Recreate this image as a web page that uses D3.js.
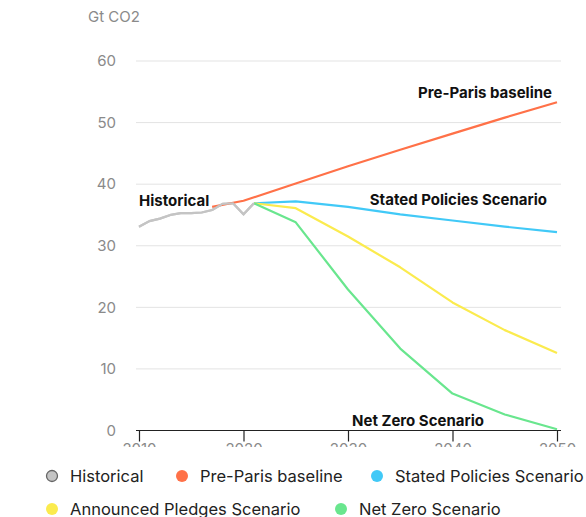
<!DOCTYPE html>
<html>
<head>
<meta charset="utf-8">
<script src="https://cdn.jsdelivr.net/npm/d3@7"></script>
<style>
  html, body { margin: 0; padding: 0; background: #fff; }
  svg { display: block; font-family: Inter, "Noto Sans", sans-serif; }
</style>
</head>
<body>
<svg id="chart" width="586" height="517"></svg>
<script>
// ---- data ----
const yTicks = [0, 10, 20, 30, 40, 50, 60];
const xTicks = [2010, 2020, 2030, 2040, 2050];
const yUnit = "Gt CO2";

const historicalYears = [2010, 2011, 2012, 2013, 2014, 2015, 2016, 2017, 2018, 2019, 2020, 2021];
const historicalValues = [33.1, 34.0, 34.4, 35.0, 35.3, 35.3, 35.4, 35.8, 36.8, 36.9, 35.1, 36.9];

const preParisYears = [2017, 2020, 2025, 2030, 2035, 2040, 2045, 2050];
const preParisValues = [36.3, 37.3, 40.1, 42.9, 45.6, 48.2, 50.8, 53.3];

const scenarioYears = [2021, 2025, 2030, 2035, 2040, 2045, 2050];
const statedValues = [36.9, 37.2, 36.3, 35.1, 34.1, 33.1, 32.2];
const pledgesValues = [36.9, 36.1, 31.5, 26.5, 20.8, 16.3, 12.6];
const netZeroValues = [36.9, 33.8, 22.9, 13.3, 6.0, 2.6, 0.2];

const seriesNames = ["Historical", "Pre-Paris baseline", "Stated Policies Scenario", "Announced Pledges Scenario", "Net Zero Scenario"];
const seriesColors = ["#c4c4c4", "#ff7148", "#41c9f7", "#fbeb4e", "#69e68e"];

// ---- build ----
const series = [
  { name: seriesNames[0], color: seriesColors[0], years: historicalYears, values: historicalValues },
  { name: seriesNames[1], color: seriesColors[1], years: preParisYears, values: preParisValues },
  { name: seriesNames[2], color: seriesColors[2], years: scenarioYears, values: statedValues },
  { name: seriesNames[3], color: seriesColors[3], years: scenarioYears, values: pledgesValues },
  { name: seriesNames[4], color: seriesColors[4], years: scenarioYears, values: netZeroValues }
];

const svg = d3.select("#chart");
const x = d3.scaleLinear().domain([2010, 2050]).range([139, 557]);
const y = d3.scaleLinear().domain([0, 60]).range([430.5, 61]);
const gridX0 = 136, gridX1 = 561;

// unit label
svg.append("text").attr("x", 88).attr("y", 22)
  .attr("font-size", 15).attr("fill", "#8a8a8a").text(yUnit);

// gridlines + y labels
const yAxis = d3.axisLeft(y).tickValues(yTicks).tickSize(0).tickPadding(20);
const gy = svg.append("g").attr("transform", `translate(${gridX0},0)`).call(yAxis);
gy.select(".domain").remove();
gy.selectAll("text").attr("font-size", 15).attr("fill", "#8a8a8a").attr("font-family", "Inter, sans-serif");
svg.append("g").selectAll("line").data(yTicks.filter(d => d > 0)).join("line")
  .attr("x1", gridX0).attr("x2", gridX1)
  .attr("y1", d => y(d)).attr("y2", d => y(d))
  .attr("stroke", "#e3e3e3").attr("stroke-width", 1);

// x axis (labels clipped as in the original)
const xAxisY = y(0);
svg.append("defs").append("clipPath").attr("id", "xclip")
  .append("rect").attr("x", 0).attr("y", -20).attr("width", 586).attr("height", 447 - xAxisY + 20);
const xAxis = d3.axisBottom(x).tickValues(xTicks).tickFormat(d3.format("d")).tickSize(11).tickSizeOuter(0).tickPadding(2);
const gx = svg.append("g").attr("transform", `translate(0,${xAxisY})`).attr("clip-path", "url(#xclip)").call(xAxis);
gx.select(".domain").attr("d", `M${gridX0},0H${gridX1}`).attr("stroke", "#222").attr("stroke-width", 1.2);
gx.selectAll(".tick line").attr("stroke", "#222").attr("stroke-width", 1.2);
gx.selectAll(".tick text").attr("font-size", 15).attr("fill", "#8a8a8a").attr("font-family", "Inter, sans-serif");

// lines
const line = d3.line().x(d => x(d[0])).y(d => y(d[1]));
const gl = svg.append("g");
series.forEach(s => {
  gl.append("path")
    .datum(s.years.map((yr, i) => [yr, s.values[i]]))
    .attr("d", line).attr("fill", "none")
    .attr("stroke", s.color).attr("stroke-width", 2.2)
    .attr("stroke-linejoin", "round");
});
gl.append("path")
  .datum(historicalYears.map((yr, i) => [yr, historicalValues[i]]))
  .attr("d", line).attr("fill", "none").attr("stroke", seriesColors[0]).attr("stroke-width", 2.2);

// in-chart labels
const labels = [
  { text: seriesNames[0], x: 139, y: 206, anchor: "start" },
  { text: seriesNames[1], x: 552, y: 98, anchor: "end" },
  { text: seriesNames[2], x: 547, y: 205, anchor: "end" },
  { text: seriesNames[4], x: 418, y: 426, anchor: "middle" }
];
svg.append("g").selectAll("text").data(labels).join("text")
  .attr("x", d => d.x).attr("y", d => d.y).attr("text-anchor", d => d.anchor)
  .attr("font-size", 15).attr("font-weight", 700).attr("fill", "#111")
  .text(d => d.text);

// legend
const legendPos = [
  { cx: 52, cy: 476 }, { cx: 182, cy: 476 }, { cx: 377, cy: 476 },
  { cx: 52, cy: 509 }, { cx: 341, cy: 509 }
];
const lg = svg.append("g");
series.forEach((s, i) => {
  const p = legendPos[i];
  lg.append("circle").attr("cx", p.cx).attr("cy", p.cy).attr("r", i === 0 ? 5.5 : 6)
    .attr("fill", s.color)
    .attr("stroke", i === 0 ? "#666" : "none").attr("stroke-width", 1.3);
  lg.append("text").attr("x", p.cx + 18).attr("y", p.cy + 6)
    .attr("font-size", 16.5).attr("fill", "#222").text(s.name);
});
</script>
</body>
</html>
